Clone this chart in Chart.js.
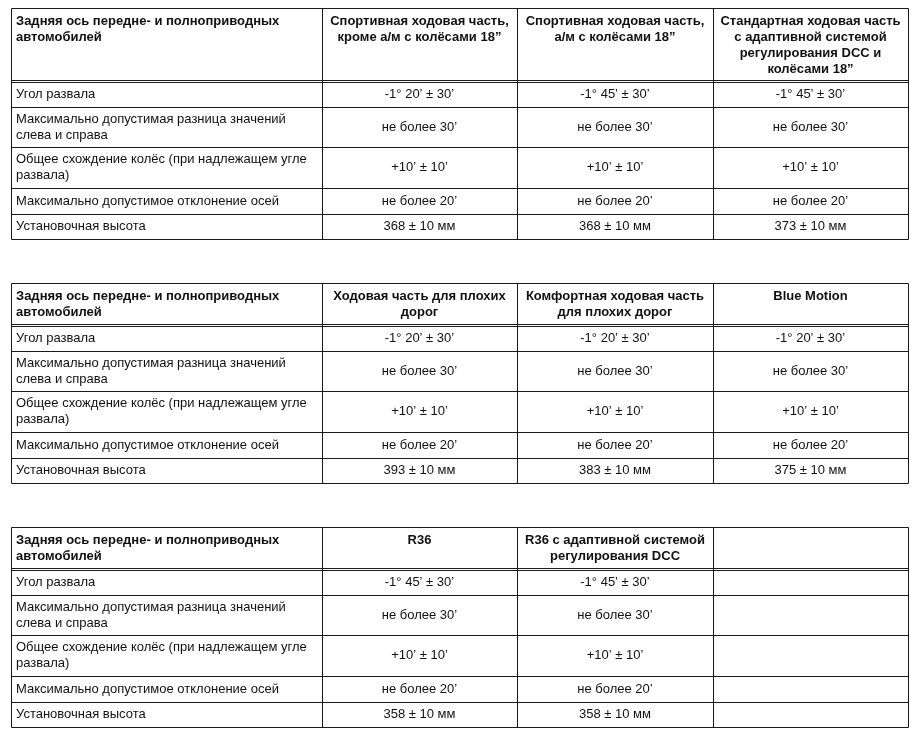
<!DOCTYPE html>
<html>
<head>
<meta charset="utf-8">
<script src="https://cdn.jsdelivr.net/npm/chart.js@4"></script>
<style>
  html, body { margin: 0; padding: 0; background: #ffffff; }
  #wrap { width: 919px; height: 740px; }
</style>
</head>
<body>
<div id="wrap"><canvas id="specChart" width="919" height="740"></canvas></div>
<script>
// table text
var cornerLabel = 'Задняя ось передне- и полноприводных\nавтомобилей';
var rowLabels = [
    'Угол развала',
    'Максимально допустимая разница значений\nслева и справа',
    'Общее схождение колёс (при надлежащем угле\nразвала)',
    'Максимально допустимое отклонение осей',
    'Установочная высота'
];

var headersOne = ['Спортивная ходовая часть,\nкроме а/м с колёсами 18”', 'Спортивная ходовая часть,\nа/м с колёсами 18”', 'Стандартная ходовая часть\nс адаптивной системой\nрегулирования DCC и\nколёсами 18”'];
var valuesOne = [
    ['-1° 20’ ± 30’', '-1° 45’ ± 30’', '-1° 45’ ± 30’'],
    ['не более 30’', 'не более 30’', 'не более 30’'],
    ['+10’ ± 10’', '+10’ ± 10’', '+10’ ± 10’'],
    ['не более 20’', 'не более 20’', 'не более 20’'],
    ['368 ± 10 мм', '368 ± 10 мм', '373 ± 10 мм']
];

var headersTwo = ['Ходовая часть для плохих\nдорог', 'Комфортная ходовая часть\nдля плохих дорог', 'Blue Motion'];
var valuesTwo = [
    ['-1° 20’ ± 30’', '-1° 20’ ± 30’', '-1° 20’ ± 30’'],
    ['не более 30’', 'не более 30’', 'не более 30’'],
    ['+10’ ± 10’', '+10’ ± 10’', '+10’ ± 10’'],
    ['не более 20’', 'не более 20’', 'не более 20’'],
    ['393 ± 10 мм', '383 ± 10 мм', '375 ± 10 мм']
];

var headersThree = ['R36', 'R36 с адаптивной системой\nрегулирования DCC', ''];
var valuesThree = [
    ['-1° 45’ ± 30’', '-1° 45’ ± 30’', ''],
    ['не более 30’', 'не более 30’', ''],
    ['+10’ ± 10’', '+10’ ± 10’', ''],
    ['не более 20’', 'не более 20’', ''],
    ['358 ± 10 мм', '358 ± 10 мм', '']
];

var tables = [
    { headers: headersOne, values: valuesOne },
    { headers: headersTwo, values: valuesTwo },
    { headers: headersThree, values: valuesThree }
];

// layout (in scale units, 1 unit = 1 px)
var colEdges = [11, 322, 517, 713, 908];
var tableTops = [8, 283, 527];
var headerHeights = [74, 43, 43];
var bodyRowHeights = [25, 40, 41, 26, 25];
var lineHeight = 16;
var fontFamily = '"Liberation Sans", Arial, sans-serif';

function drawLines(ctx, text, x, y, align) {
    var lines = text.split('\n');
    ctx.textAlign = align;
    for (var i = 0; i < lines.length; i++) {
        ctx.fillText(lines[i], x, y + i * lineHeight);
    }
}

var tablePlugin = {
    id: 'tablePlugin',
    afterDraw: function(chart) {
        var ctx = chart.ctx;
        var xs = chart.scales.x;
        var ys = chart.scales.y;
        var px = function(v) { return Math.round(xs.getPixelForValue(v)) + 0.5; };
        var py = function(v) { return Math.round(ys.getPixelForValue(v)) + 0.5; };

        ctx.save();
        ctx.strokeStyle = '#1a1a1a';
        ctx.lineWidth = 1;
        ctx.fillStyle = '#111111';
        ctx.textBaseline = 'middle';

        tables.forEach(function(t, ti) {
            var top = tableTops[ti];
            var headBottom = top + headerHeights[ti];
            var rowEdges = [headBottom];
            bodyRowHeights.forEach(function(h) {
                rowEdges.push(rowEdges[rowEdges.length - 1] + h);
            });
            var bottom = rowEdges[rowEdges.length - 1];

            // horizontal lines
            ctx.beginPath();
            ctx.moveTo(px(colEdges[0]), py(top));
            ctx.lineTo(px(colEdges[4]), py(top));
            ctx.moveTo(px(colEdges[0]), py(headBottom - 2));
            ctx.lineTo(px(colEdges[4]), py(headBottom - 2));
            rowEdges.forEach(function(e) {
                ctx.moveTo(px(colEdges[0]), py(e));
                ctx.lineTo(px(colEdges[4]), py(e));
            });
            // vertical lines
            colEdges.forEach(function(c) {
                ctx.moveTo(px(c), py(top));
                ctx.lineTo(px(c), py(bottom));
            });
            ctx.stroke();

            // header
            ctx.font = 'bold 13px ' + fontFamily;
            var hy = ys.getPixelForValue(top + 13);
            drawLines(ctx, cornerLabel, xs.getPixelForValue(colEdges[0] + 5), hy, 'left');
            t.headers.forEach(function(h, ci) {
                var cx = xs.getPixelForValue((colEdges[ci + 1] + colEdges[ci + 2]) / 2);
                drawLines(ctx, h, cx, hy, 'center');
            });

            // body
            ctx.font = '13px ' + fontFamily;
            rowLabels.forEach(function(label, ri) {
                var mid = (rowEdges[ri] + rowEdges[ri + 1]) / 2;
                var n = label.split('\n').length;
                var ly = ys.getPixelForValue(mid - (n - 1) * lineHeight / 2);
                drawLines(ctx, label, xs.getPixelForValue(colEdges[0] + 5), ly, 'left');
                t.values[ri].forEach(function(v, ci) {
                    var cx = xs.getPixelForValue((colEdges[ci + 1] + colEdges[ci + 2]) / 2);
                    drawLines(ctx, v, cx, ys.getPixelForValue(mid), 'center');
                });
            });
        });
        ctx.restore();
    }
};

var ctx = document.getElementById('specChart').getContext('2d');
window.myChart = new Chart(ctx, {
    type: 'scatter',
    data: { datasets: [{ data: [], pointRadius: 0 }] },
    options: {
        responsive: false,
        animation: false,
        layout: { padding: 0 },
        plugins: { legend: { display: false }, tooltip: { enabled: false } },
        scales: {
            x: { type: 'linear', min: 0, max: 919, display: false },
            y: { type: 'linear', min: 0, max: 740, reverse: true, display: false }
        }
    },
    plugins: [tablePlugin]
});
</script>
</body>
</html>
